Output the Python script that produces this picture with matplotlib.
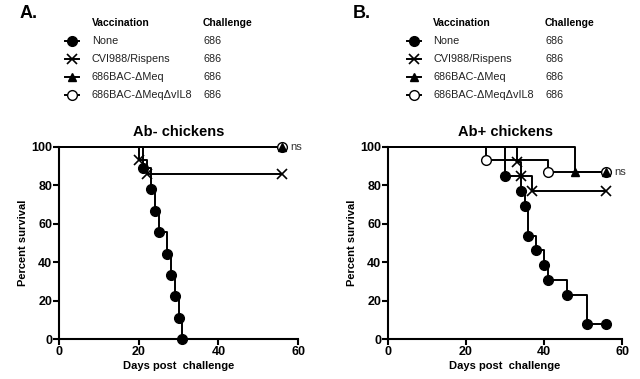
import matplotlib.pyplot as plt
from matplotlib.lines import Line2D

plt.rcParams['font.family'] = ['Liberation Sans', 'DejaVu Sans']

# %% data
groups = ['None', 'CVI988/Rispens', '686BAC-\u0394Meq', '686BAC-\u0394Meq\u0394vIL8']
challenge = ['686', '686', '686', '686']

# panel A: Ab- chickens
a_none_days = [0, 21, 23, 24, 25, 27, 28, 29, 30, 31]
a_none_surv = [100, 88.9, 77.8, 66.7, 55.6, 44.4, 33.3, 22.2, 11.1, 0]
a_cvi_days = [0, 20, 22, 56]
a_cvi_surv = [100, 92.9, 85.7, 85.7]
a_meq_days = [0, 56]
a_meq_surv = [100, 100]
a_vil8_days = [0, 56]
a_vil8_surv = [100, 100]

# panel B: Ab+ chickens
b_none_days = [0, 30, 34, 35, 36, 38, 40, 41, 46, 51, 56]
b_none_surv = [100, 84.6, 76.9, 69.2, 53.8, 46.2, 38.5, 30.8, 23.1, 7.7, 7.7]
b_cvi_days = [0, 33, 34, 37, 56]
b_cvi_surv = [100, 92.3, 84.6, 76.9, 76.9]
b_meq_days = [0, 48, 56]
b_meq_surv = [100, 86.7, 86.7]
b_vil8_days = [0, 25, 41, 56]
b_vil8_surv = [100, 93.3, 86.7, 86.7]

# marker style per group (None, CVI, dMeq, dMeq-dvIL8)
styles = [dict(marker='o', mfc='black', ms=7),
          dict(marker='x', mfc='black', ms=7, mew=1.2),
          dict(marker='^', mfc='black', ms=6),
          dict(marker='o', mfc='white', ms=7, mew=1.0)]
zorders = [5, 4, 6, 3]

fig = plt.figure(figsize=(6.4, 3.79), dpi=100)


def draw_panel(ax, days_list, surv_list, title, ns_y):
    for days, surv, st, z in zip(days_list, surv_list, styles, zorders):
        ax.step(days, surv, where='post', color='black', lw=1.4,
                clip_on=False, zorder=2)
        ax.plot(days[1:], surv[1:], ls='none', color='black', mec='black',
                clip_on=False, zorder=z, **st)
    ax.text(58, ns_y, 'ns', fontsize=8, va='center', ha='left', color='#333333')
    ax.set_xlim(0, 60)
    ax.set_ylim(0, 100)
    ax.set_xticks([0, 20, 40, 60])
    ax.set_yticks([0, 20, 40, 60, 80, 100])
    for s in ['top', 'right']:
        ax.spines[s].set_visible(False)
    for s in ['left', 'bottom']:
        ax.spines[s].set_linewidth(1.5)
    ax.tick_params(width=1.5, length=4, labelsize=9, pad=1)
    for lab in ax.get_xticklabels() + ax.get_yticklabels():
        lab.set_fontweight('bold')
    ax.set_xlabel('Days post  challenge', fontsize=8, fontweight='bold', labelpad=2)
    ax.set_ylabel('Percent survival', fontsize=8, fontweight='bold', labelpad=2)
    ax.set_title(title, fontsize=10.5, fontweight='bold', pad=8)


def draw_legend(letter, x_letter, x_mark, x_text, x_chal):
    W, H = 640.0, 379.0
    fig.text(x_letter / W, 1 - 14 / H, letter, fontsize=13, fontweight='bold',
             va='center', ha='left')
    fig.text(x_text / W, 1 - 23 / H, 'Vaccination', fontsize=7.5,
             fontweight='bold', va='center')
    fig.text(x_chal / W, 1 - 23 / H, 'Challenge', fontsize=7.5,
             fontweight='bold', va='center')
    rows = [41, 58.5, 76.5, 94.5]
    for g, c, st, yy in zip(groups, challenge, styles, rows):
        y = 1 - yy / H
        fig.add_artist(Line2D([(x_mark - 7) / W, x_mark / W, (x_mark + 7) / W],
                              [y, y, y], color='black', lw=1.4, mec='black',
                              markevery=[1], **st))
        fig.text(x_text / W, y, g, fontsize=7.8, va='center', color='#222222')
        fig.text(x_chal / W, y, c, fontsize=7.8, va='center', color='#222222')


axA = fig.add_axes([59 / 640, 1 - 339 / 379, 239 / 640, 192.3 / 379])
draw_panel(axA, [a_none_days, a_cvi_days, a_meq_days, a_vil8_days],
           [a_none_surv, a_cvi_surv, a_meq_surv, a_vil8_surv],
           'Ab- chickens', 100)

axB = fig.add_axes([388 / 640, 1 - 339 / 379, 234 / 640, 192.3 / 379])
draw_panel(axB, [b_none_days, b_cvi_days, b_meq_days, b_vil8_days],
           [b_none_surv, b_cvi_surv, b_meq_surv, b_vil8_surv],
           'Ab+ chickens', 86.7)

draw_legend('A.', 20, 72, 92, 203)
draw_legend('B.', 353, 414, 433, 545)

fig.savefig('out.png', dpi=100)
